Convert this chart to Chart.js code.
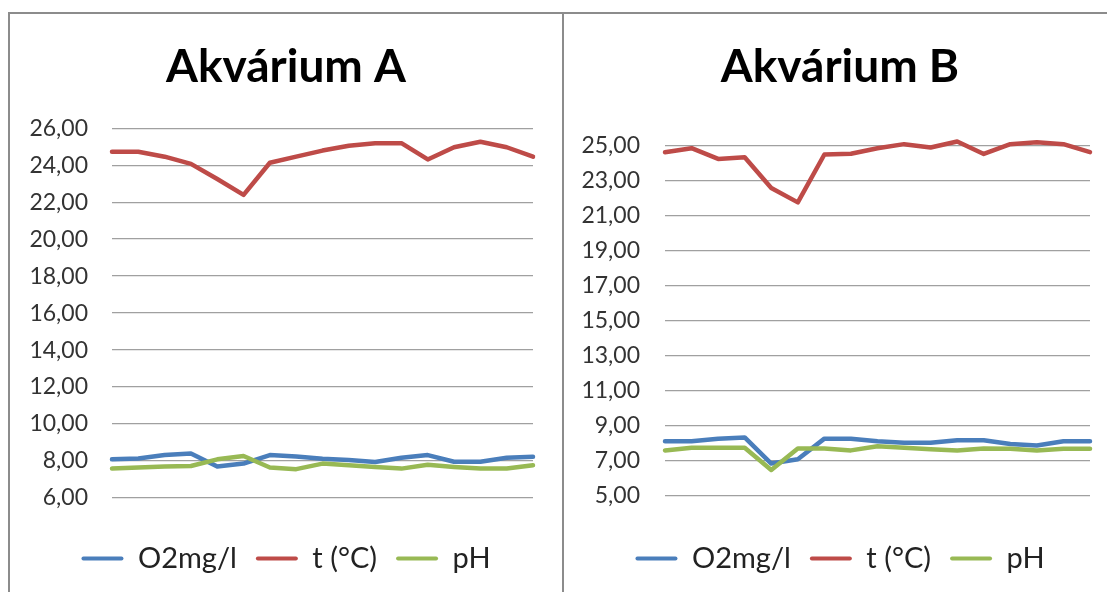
<!DOCTYPE html>
<html>
<head>
<meta charset="utf-8">
<script src="https://cdn.jsdelivr.net/npm/chart.js@4/dist/chart.umd.min.js"></script>
<style>
  body { margin: 0; background: #fff; overflow: hidden; width: 1107px; height: 592px; position: relative; }
  .panel { position: absolute; top: 12px; height: 600px; border-top: 2px solid #8c8c8c; }
  #panelA { left: 8px; width: 552px; border-left: 2px solid #8c8c8c; border-right: 2px solid #8c8c8c; }
  #panelB { left: 564px; width: 560px; }
  .box { position: relative; width: 552px; height: 578px; }
</style>
</head>
<body>
<div class="panel" id="panelA"><div class="box"><canvas id="chartA"></canvas></div></div>
<div class="panel" id="panelB"><div class="box"><canvas id="chartB"></canvas></div></div>
<script>
const dni = ['1','2','3','4','5','6','7','8','9','10','11','12','13','14','15','16','17'];

// Akvárium A
const o2A = [8.09, 8.14, 8.32, 8.41, 7.70, 7.86, 8.32, 8.25, 8.12, 8.05, 7.95, 8.18, 8.32, 7.96, 7.96, 8.18, 8.23];
const tA  = [24.73, 24.73, 24.46, 24.07, 23.25, 22.39, 24.13, 24.46, 24.79, 25.05, 25.19, 25.19, 24.31, 24.97, 25.27, 24.97, 24.46];
const phA = [7.59, 7.65, 7.70, 7.73, 8.09, 8.27, 7.65, 7.56, 7.86, 7.77, 7.68, 7.59, 7.80, 7.68, 7.59, 7.59, 7.77];
const ticksA = [6, 8, 10, 12, 14, 16, 18, 20, 22, 24, 26];

// Akvárium B
const o2B = [8.12, 8.12, 8.27, 8.34, 6.85, 7.09, 8.27, 8.27, 8.12, 8.03, 8.03, 8.18, 8.18, 7.97, 7.88, 8.12, 8.12];
const tB  = [24.60, 24.83, 24.22, 24.31, 22.56, 21.74, 24.47, 24.51, 24.83, 25.06, 24.87, 25.21, 24.50, 25.06, 25.17, 25.06, 24.60];
const phB = [7.60, 7.75, 7.75, 7.75, 6.48, 7.71, 7.71, 7.60, 7.84, 7.75, 7.66, 7.60, 7.71, 7.69, 7.60, 7.69, 7.69];
const ticksB = [5, 7, 9, 11, 13, 15, 17, 19, 21, 23, 25];

const seriesNames = ['O2mg/l', 't (°C)', 'pH'];
const colors = ['#4a7ebb', '#be4b48', '#98b954'];

Chart.defaults.font.family = 'Lato';

function makeChart(id, title, series, yTicks, yWidth, tickPad, rightW, titleBottom, xHeight) {
  const datasets = series.map((vals, i) => ({
    label: seriesNames[i],
    data: vals,
    borderColor: colors[i],
    backgroundColor: colors[i],
    borderWidth: 4.5,
    pointRadius: 0,
    tension: 0,
    clip: false,
    borderJoinStyle: 'round',
    borderCapStyle: 'round',
    order: 3 - i
  }));

  return new Chart(document.getElementById(id), {
    type: 'line',
    data: { labels: dni, datasets: datasets },
    options: {
      responsive: true,
      maintainAspectRatio: false,
      animation: false,
      layout: { padding: { left: 0, right: 0, top: 0, bottom: 9 } },
      plugins: {
        tooltip: { enabled: false },
        title: {
          display: true,
          text: title,
          color: '#000',
          font: { size: 46, weight: 'bold' },
          padding: { top: 26, bottom: titleBottom }
        },
        legend: {
          position: 'bottom',
          labels: {
            boxWidth: 42,
            boxHeight: 4,
            padding: 19,
            color: '#222',
            font: { size: 29 },
            sort: (a, b) => a.datasetIndex - b.datasetIndex,
            generateLabels: (chart) => {
              const items = Chart.defaults.plugins.legend.labels.generateLabels(chart);
              items.forEach(it => {
                it.lineWidth = 0;
                it.fillStyle = it.strokeStyle;
                it.borderRadius = 2;
              });
              return items;
            }
          }
        }
      },
      scales: {
        x: {
          ticks: { display: false },
          grid: { display: false },
          border: { display: false },
          afterFit: (s) => { s.height = xHeight; }
        },
        y: {
          min: yTicks[0],
          max: yTicks[yTicks.length - 1],
          afterBuildTicks: (s) => { s.ticks = yTicks.map(v => ({ value: v })); },
          afterFit: (s) => { s.width = yWidth; },
          ticks: {
            color: '#333',
            font: { size: 23 },
            padding: tickPad,
            callback: (v) => v.toFixed(2).replace('.', ',')
          },
          grid: { color: '#a0a0a0', lineWidth: 1.3, drawTicks: false },
          border: { display: false }
        },
        y2: {
          position: 'right',
          ticks: { display: false },
          grid: { display: false },
          border: { display: false },
          afterFit: (s) => { s.width = rightW; }
        }
      }
    }
  });
}

makeChart('chartA', 'Akvárium A', [o2A, tA, phA], ticksA, 102, 24, 29, 33, 27);
makeChart('chartB', 'Akvárium B', [o2B, tB, phB], ticksB, 101, 25, 26, 50, 29);
</script>
</body>
</html>
